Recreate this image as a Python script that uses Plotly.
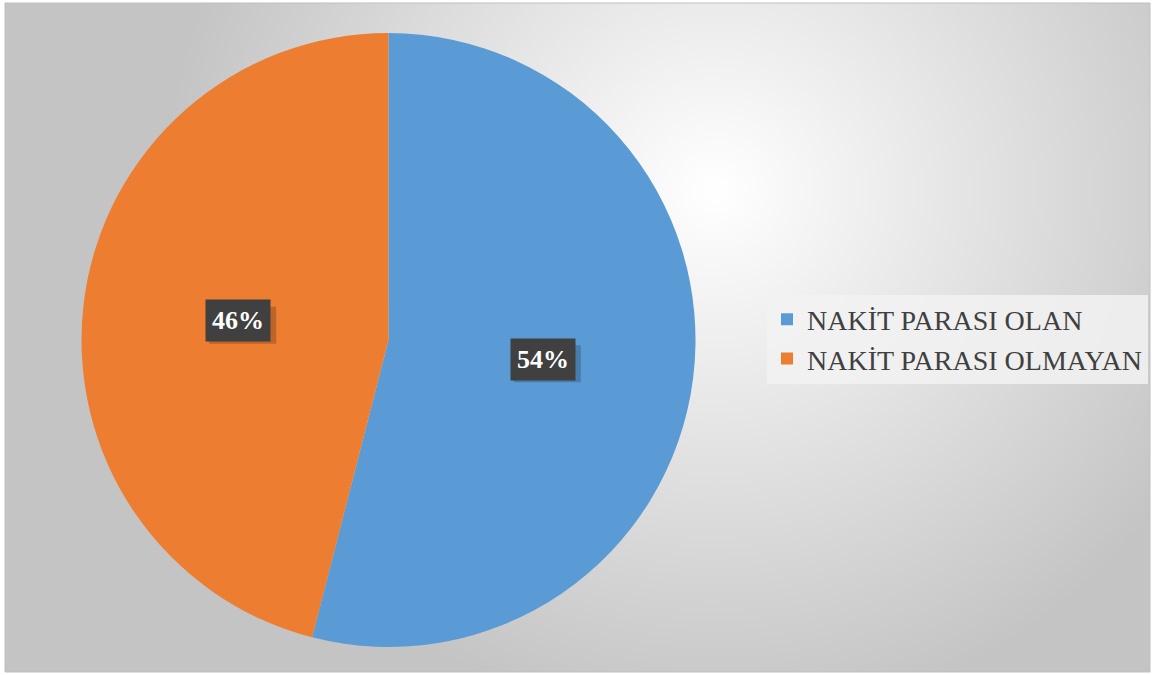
import math
import plotly.graph_objects as go

# data
labels = ['NAKİT PARASI OLAN', 'NAKİT PARASI OLMAYAN']
values = [54, 46]
colors = ['#5B9BD5', '#ED7D31']

W, H = 1153, 675
SERIF = 'Liberation Serif, Times New Roman, serif'

# pie placement (pixels)
cx, cy, R = 388.5, 340, 307

# radial gradient background as svg
bg_svg = (
    "data:image/svg+xml;utf8,"
    "<svg xmlns='http://www.w3.org/2000/svg' width='1153' height='675'>"
    "<defs><radialGradient id='g' cx='0.62' cy='0.28' r='0.8' gradientTransform='translate(0.62 0.28) scale(0.6 1) translate(-0.62 -0.28)'>"
    "<stop offset='0' stop-color='%23ffffff'/>"
    "<stop offset='1' stop-color='%23c4c4c4'/>"
    "</radialGradient></defs>"
    "<rect width='1153' height='675' fill='url(%23g)'/></svg>"
)

fig = go.Figure()
fig.add_trace(go.Pie(
    labels=labels,
    values=values,
    marker=dict(colors=colors, line=dict(width=0)),
    sort=False,
    direction='clockwise',
    rotation=0,
    textinfo='none',
    hoverinfo='label+percent',
    domain=dict(x=[(cx - R) / W, (cx + R) / W], y=[1 - (cy + R) / H, 1 - (cy - R) / H]),
))

# percentage labels placed at the middle of each slice, half radius out
total = sum(values)
start = 0
annotations = []
shapes = [dict(
    type='rect', xref='paper', yref='paper',
    x0=5 / W, x1=1150 / W, y0=1 - 672 / H, y1=1 - 3 / H,
    line=dict(color='#bfbfbf', width=1),
)]
for v in values:
    mid = (start + v / 2) / total * 2 * math.pi
    start += v
    px = cx + 0.5 * R * math.sin(mid) + 2
    py = cy - 0.5 * R * math.cos(mid)
    # drop shadow behind the label box
    shapes.append(dict(
        type='rect', xref='paper', yref='paper', layer='above',
        x0=(px - 29) / W, x1=(px + 38) / W,
        y0=1 - (py + 23) / H, y1=1 - (py - 14) / H,
        fillcolor='rgba(0,0,0,0.2)', line=dict(width=0),
    ))
    annotations.append(dict(
        x=px / W, y=1 - py / H, xref='paper', yref='paper',
        xanchor='center', yanchor='middle',
        text='<b>%d%%</b>' % round(v / total * 100),
        showarrow=False,
        font=dict(family=SERIF, size=26, color='white'),
        bgcolor='#404040', borderpad=6,
    ))

fig.update_layout(
    width=W, height=H,
    margin=dict(l=0, r=0, t=0, b=0),
    paper_bgcolor='white',
    plot_bgcolor='white',
    showlegend=True,
    legend=dict(
        x=767 / W, y=1 - 339 / H, xanchor='left', yanchor='middle',
        font=dict(family=SERIF, size=28, color='#404040'),
        bgcolor='rgba(242,242,242,0.85)',
        itemwidth=30,
    ),
    annotations=annotations,
    images=[dict(
        source=bg_svg, xref='paper', yref='paper',
        x=5 / W, y=1 - 3 / H, sizex=1145 / W, sizey=669 / H,
        xanchor='left', yanchor='top', sizing='stretch', layer='below',
    )],
    shapes=shapes,
)

fig.write_html('out.html', config={'displayModeBar': False},
               post_script="document.body.style.margin='0';")
